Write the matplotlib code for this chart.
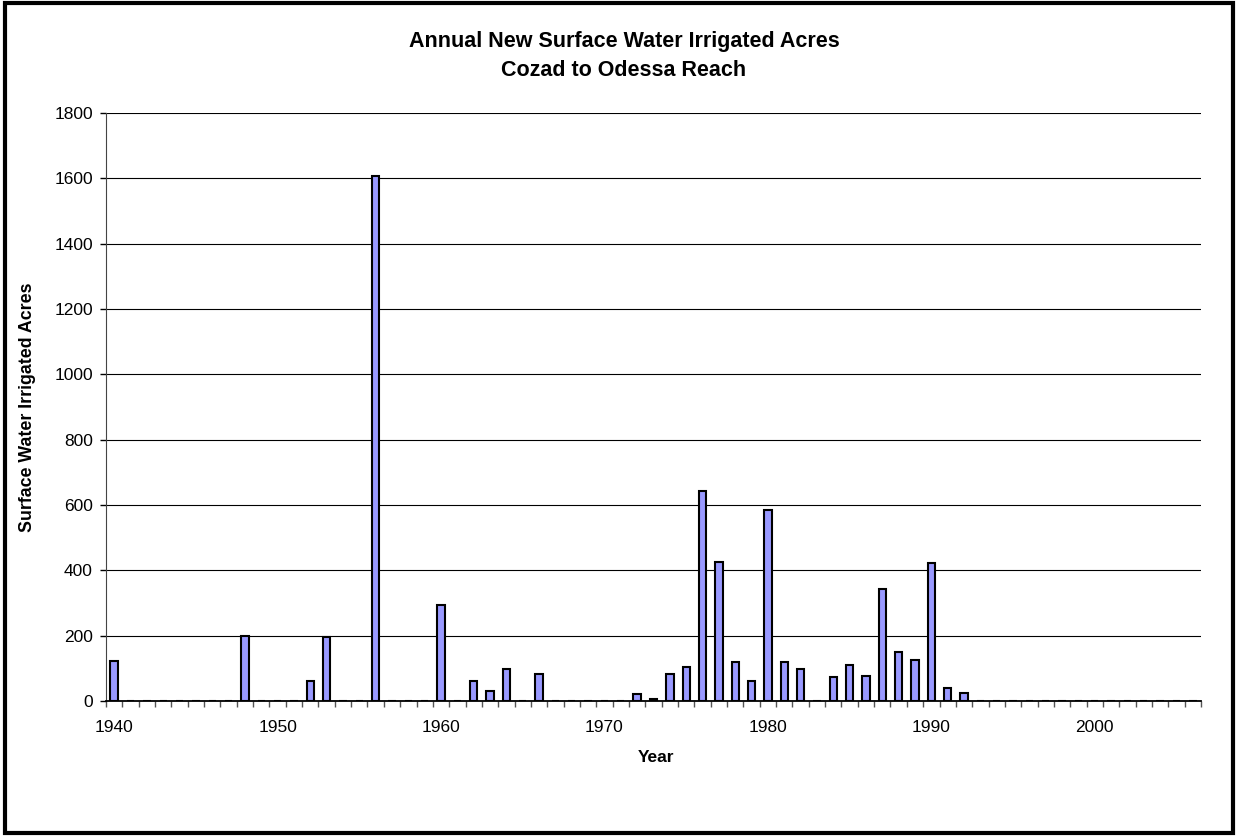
import numpy as np
import matplotlib
matplotlib.use("Agg")
import matplotlib.pyplot as plt
from matplotlib.patches import Rectangle

plt.rcParams['font.family'] = ['Liberation Sans', 'DejaVu Sans']

# data (acres per year, missing years are zero)
years = list(range(1940, 2007))
bar_years = [1940, 1948, 1952, 1953, 1956, 1960, 1962, 1963, 1964, 1966,
             1972, 1973, 1974, 1975, 1976, 1977, 1978, 1979, 1980, 1981,
             1982, 1984, 1985, 1986, 1987, 1988, 1989, 1990, 1991, 1992]
bar_acres = [122, 198, 62, 196, 1608, 293, 62, 31, 99, 84,
             20, 5, 82, 105, 644, 427, 118, 62, 585, 120,
             97, 73, 110, 77, 342, 151, 127, 421, 41, 26]
year_labels = [1940, 1950, 1960, 1970, 1980, 1990, 2000]

acres = [0] * len(years)
for y, a in zip(bar_years, bar_acres):
    acres[years.index(y)] = a

fig = plt.figure(figsize=(12.38, 8.36), dpi=100)
ax = fig.add_axes([106/1238, 1 - 701/836, (1201-106)/1238, (701-113)/836])

x = np.arange(len(years))
ax.bar(x, acres, width=0.45, color='#9999FF', edgecolor='black', linewidth=1.5, zorder=3)

ax.set_xlim(-0.5, len(years) - 0.5)
ax.set_ylim(0, 1800)
ax.set_yticks(range(0, 1801, 200))
ax.yaxis.grid(True, color='black', linewidth=0.8)
ax.set_axisbelow(True)

# category ticks at boundaries, labels every ten years
ax.set_xticks(np.arange(len(years) + 1) - 0.5, minor=False)
ax.set_xticklabels([])
ax.set_xticks([years.index(y) for y in year_labels], minor=True)
ax.set_xticklabels([str(y) for y in year_labels], minor=True)
ax.tick_params(axis='x', which='major', direction='out', length=4.5, width=1, color='#555555')
ax.tick_params(axis='x', which='minor', length=0, labelsize=12.5, pad=14)
ax.tick_params(axis='y', direction='out', length=4.5, width=1, labelsize=12.5, pad=5)

for s in ['top', 'right']:
    ax.spines[s].set_visible(False)
ax.spines['left'].set_color('#444444')
ax.spines['bottom'].set_linewidth(1.3)

fig.text(0.504, 1 - 42/836, 'Annual New Surface Water Irrigated Acres', ha='center', va='center',
         fontsize=15.5, fontweight='bold')
fig.text(0.504, 1 - 70/836, 'Cozad to Odessa Reach', ha='center', va='center',
         fontsize=15.5, fontweight='bold')
fig.text(656/1238, 1 - 758/836, 'Year', ha='center', va='center',
         fontsize=12.5, fontweight='bold')
fig.text(27/1238, 1 - 407/836, 'Surface Water Irrigated Acres', rotation=90, ha='center',
         va='center', fontsize=12.8, fontweight='bold')

fig.patches.append(Rectangle((0.004, 0.003), 0.992, 0.993, transform=fig.transFigure,
                             fill=False, edgecolor='black', linewidth=3))

fig.savefig('out.png', dpi=100)
